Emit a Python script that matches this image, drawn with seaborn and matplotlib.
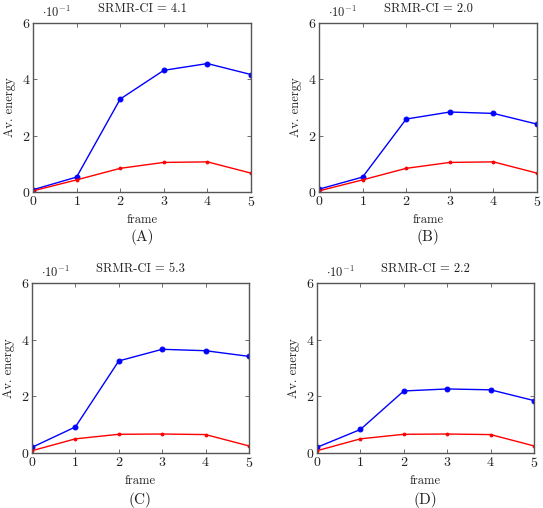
import pandas as pd
import numpy as np
import matplotlib
matplotlib.use("Agg")
import matplotlib.pyplot as plt
import seaborn as sns

# ===== data (values in units of 1e-1) =====
frames = [0, 1, 2, 3, 4, 5]

titles = ["SRMR-CI = 4.1", "SRMR-CI = 2.0", "SRMR-CI = 5.3", "SRMR-CI = 2.2"]
captions = ["(A)", "(B)", "(C)", "(D)"]

blue_a = [0.08, 0.53, 3.30, 4.32, 4.56, 4.17]
red_a = [0.04, 0.43, 0.84, 1.05, 1.07, 0.67]
blue_b = [0.10, 0.53, 2.59, 2.84, 2.79, 2.41]
red_b = [0.04, 0.43, 0.84, 1.05, 1.07, 0.67]
blue_c = [0.20, 0.92, 3.25, 3.66, 3.61, 3.41]
red_c = [0.08, 0.50, 0.66, 0.67, 0.65, 0.25]
blue_d = [0.20, 0.83, 2.19, 2.26, 2.23, 1.85]
red_d = [0.08, 0.50, 0.66, 0.67, 0.65, 0.25]

blues = [blue_a, blue_b, blue_c, blue_d]
reds = [red_a, red_b, red_c, red_d]

# ===== style =====
sns.set_theme(style="ticks")
plt.rcParams['font.family'] = ['cmr10', 'DejaVu Serif']
plt.rcParams['mathtext.fontset'] = 'cm'
plt.rcParams['axes.formatter.use_mathtext'] = True

fig = plt.figure(figsize=(5.43, 5.08), dpi=100)
W, H = 543, 508
boxes = [(33, 23, 251, 192), (319, 23, 537, 192),
         (32, 283, 249, 453), (317, 283, 534, 453)]
caption_y = [-0.265, -0.265, -0.275, -0.275]

frame_col = "#555555"
for i, (l, t, r, b) in enumerate(boxes):
    ax = fig.add_axes([l / W, 1 - b / H, (r - l) / W, (b - t) / H])
    df = pd.DataFrame({"frame": frames * 2,
                       "energy": blues[i] + reds[i],
                       "series": ["blue"] * 6 + ["red"] * 6})
    sns.lineplot(data=df[df.series == "blue"], x="frame", y="energy",
                 color="#0000ff", marker="o", markersize=3.5,
                 markeredgecolor="#0000ff", linewidth=1.0, ax=ax)
    sns.lineplot(data=df[df.series == "red"], x="frame", y="energy",
                 color="#ff0000", marker="o", markersize=2,
                 markeredgecolor="#ff0000", linewidth=1.0, ax=ax)
    ax.set_xlim(0, 5)
    ax.set_ylim(0, 6)
    ax.set_xticks(frames)
    ax.set_yticks([0, 2, 4, 6])
    ax.tick_params(direction="in", top=True, right=True, length=3,
                   width=0.6, colors=frame_col, labelcolor="#222222",
                   labelsize=10, pad=2)
    for s in ax.spines.values():
        s.set_color(frame_col)
        s.set_linewidth(1.0)
    ax.set_xlabel("frame", fontsize=9, color="#222222", labelpad=4)
    ax.set_ylabel("Av. energy", fontsize=9, color="#222222", labelpad=4)
    ax.set_title(titles[i], fontsize=9, color="#222222", pad=8)
    ax.text(0.04, 1.02, r"$\cdot 10^{-1}$", transform=ax.transAxes,
            fontsize=9, color="#222222", ha="left", va="bottom")
    ax.text(0.5, caption_y[i], captions[i], transform=ax.transAxes,
            fontsize=11, color="#222222", ha="center", va="center")

fig.savefig("out.png", dpi=100)
